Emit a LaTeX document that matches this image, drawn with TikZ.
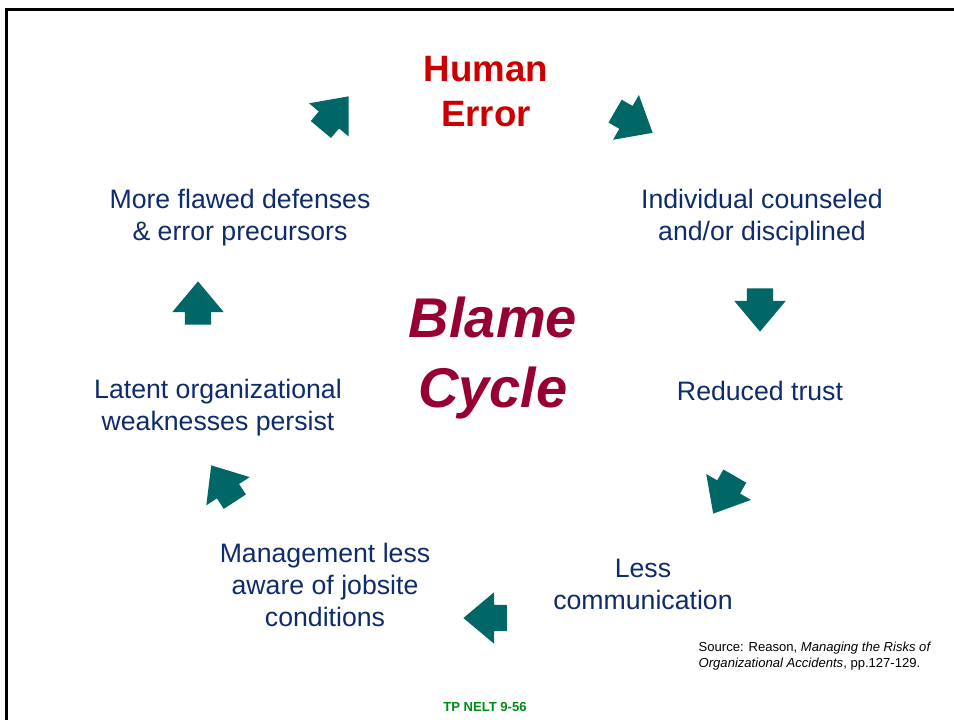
\documentclass[tikz,border=0pt]{standalone}
\usepackage{fontspec}
\setmainfont{Liberation Sans}
\usetikzlibrary{shapes.arrows}

\definecolor{textblue}{RGB}{14,44,108}
\definecolor{errorred}{RGB}{204,0,0}
\definecolor{blamered}{RGB}{150,0,50}
\definecolor{arrowteal}{RGB}{0,102,102}
\definecolor{footgreen}{RGB}{0,140,20}

\begin{document}
\begin{tikzpicture}[x=0.75pt, y=-0.75pt,
    cyctext/.style={text=textblue, align=center, font=\fontsize{20}{24}\selectfont},
    cyclearrow/.style={single arrow, fill=arrowteal, draw=none, inner xsep=0pt, inner ysep=9.7pt,
        minimum height=32.5pt, single arrow head extend=9.5pt,
        single arrow tip angle=80, anchor=tip, rotate=#1}]

    \useasboundingbox (0,0) rectangle (954,720);
    \draw[line width=2.6pt] (6.5,720) -- (6.5,9.5) -- (954,9.5);

    \node [text=errorred, align=center, font=\bfseries\fontsize{27.5}{33.8}\selectfont] (human) at (486,92) {Human\\Error};
    \node [cyctext] (counseled) at (762,218) {Individual counseled\\and/or disciplined};
    \node [cyctext] (trust) at (760,391) {Reduced trust};
    \node [cyctext] (lesscomm) at (643,584) {Less\\communication};
    \node [cyctext] (mgmt) at (325,585) {Management less\\aware of jobsite\\conditions};
    \node [cyctext] (latent) at (218,408) {Latent organizational\\weaknesses persist};
    \node [cyctext] (defenses) at (240,218) {More flawed defenses\\\& error precursors};

    \node [text=blamered, align=center, font=\bfseries\itshape\fontsize{42}{52.5}\selectfont] (blame) at (493,358) {Blame\\Cycle};

    \node [cyclearrow=-30] (a1) at (653,133) {};
    \node [cyclearrow=-90] (a2) at (760,332) {};
    \node [cyclearrow=-120] (a3) at (713,514) {};
    \node [cyclearrow=180] (a4) at (463,618) {};
    \node [cyclearrow=123] (a5) at (211,465) {};
    \node [cyclearrow=90] (a6) at (198,281) {};
    \node [cyclearrow=50] (a7) at (349,96) {};

    \node [anchor=west, align=left, font=\fontsize{9.8}{12}\selectfont] (source) at (694,656)
        {Source: Reason, \textit{Managing the Risks of}\\\textit{Organizational Accidents}, pp.127-129.};
    \node [text=footgreen, font=\bfseries\fontsize{9.8}{12}\selectfont] (footer) at (485,707) {TP NELT 9-56};
\end{tikzpicture}
\end{document}
